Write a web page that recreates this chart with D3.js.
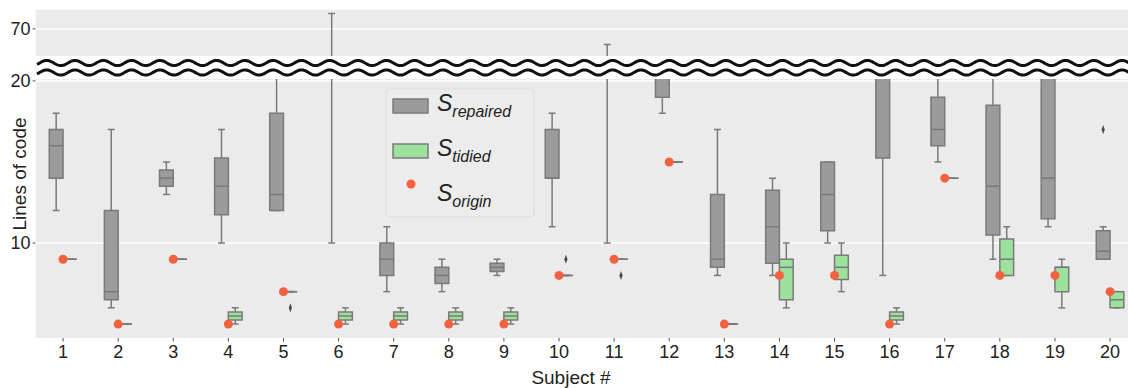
<!DOCTYPE html>
<html>
<head>
<meta charset="utf-8">
<script src="https://cdn.jsdelivr.net/npm/d3@7"></script>
<style>
  body { margin: 0; background: #fff; }
  text { font-family: "Liberation Sans", Arial, sans-serif; }
</style>
</head>
<body>
<div id="chart"></div>
<script>
//Data: five-number summaries [min, q1, median, q3, max]
var subjects = ["1","2","3","4","5","6","7","8","9","10","11","12","13","14","15","16","17","18","19","20"];
var repairedStats = [
  [12, 14, 16, 17, 18], [6, 6.5, 7, 12, 17], [13, 13.5, 14, 14.5, 15], [10, 11.75, 13.5, 15.25, 17],
  [12, 12, 13, 18, 24], [10, 30, 40, 50, 78], [7, 8, 9, 10, 11], [7, 7.5, 8, 8.5, 9],
  [8, 8.25, 8.5, 8.75, 9], [11, 14, 14, 17, 18], [10, 25, 30, 40, 62], [18, 19, 21, 23, 26],
  [8, 8.5, 9, 13, 17], [8, 8.75, 11, 13.25, 14], [10, 10.75, 13, 15, 15], [8, 15.25, 22, 28, 40],
  [15, 16, 17, 19, 22], [9, 10.5, 13.5, 18.5, 24], [11, 11.5, 14, 21, 28], [9, 9, 9.5, 10.75, 11]
];
var repairedOutliers = [[],[],[],[],[],[],[],[],[],[],[],[],[],[],[],[],[],[],[],[17]];
var tidiedStats = [
  [9, 9, 9, 9, 9], [5, 5, 5, 5, 5], [9, 9, 9, 9, 9], [5, 5.25, 5.5, 5.75, 6],
  [7, 7, 7, 7, 7], [5, 5.25, 5.5, 5.75, 6], [5, 5.25, 5.5, 5.75, 6], [5, 5.25, 5.5, 5.75, 6],
  [5, 5.25, 5.5, 5.75, 6], [8, 8, 8, 8, 8], [9, 9, 9, 9, 9], [15, 15, 15, 15, 15],
  [5, 5, 5, 5, 5], [6, 6.5, 8.5, 9, 10], [7, 7.75, 8.5, 9.25, 10], [5, 5.25, 5.5, 5.75, 6],
  [14, 14, 14, 14, 14], [8, 8, 9, 10.25, 11], [6, 7, 8.5, 8.5, 9], [6, 6, 6.5, 7, 7]
];
var tidiedOutliers = [[],[],[],[],[6],[],[],[],[],[9],[8],[],[],[],[],[],[],[],[],[]];
var originValues = [9, 5, 9, 5, 7, 5, 5, 5, 5, 8, 9, 15, 5, 8, 8, 5, 14, 8, 8, 7];
var topTicks = [70];
var bottomTicks = [10, 20];

var width = 1128, height = 388;
var colors = { repaired: "#9b9b9b", tidied: "#9ce29c", edge: "#7a7a7a", origin: "#f4613f", panel: "#ebebeb" };

var svg = d3.select("#chart").append("svg")
  .attr("width", width).attr("height", height);

var x = d3.scaleBand().domain(subjects).range([35.5, 1137.6]).padding(0);
var hue = d3.scaleBand().domain(["repaired", "tidied"])
  .range([-x.bandwidth() * 0.25, x.bandwidth() * 0.25]);

var panels = [
  { id: "top", y: d3.scaleLinear().domain([56, 80]).range([56, 9.5]), top: 9.5, bottom: 56, ticks: topTicks },
  { id: "bot", y: d3.scaleLinear().domain([4.14, 20.12]).range([338, 79]), top: 79, bottom: 338, ticks: bottomTicks }
];

var series = [
  { key: "repaired", stats: repairedStats, outliers: repairedOutliers },
  { key: "tidied", stats: tidiedStats, outliers: tidiedOutliers }
];

panels.forEach(function(p) {
  svg.append("clipPath").attr("id", "clip-" + p.id)
    .append("rect")
    .attr("x", 35.5).attr("y", p.top)
    .attr("width", width - 35.5).attr("height", p.bottom - p.top);

  var g = svg.append("g").attr("clip-path", "url(#clip-" + p.id + ")");
  g.append("rect")
    .attr("x", 35.5).attr("y", p.top)
    .attr("width", width - 35.5).attr("height", p.bottom - p.top)
    .attr("fill", colors.panel);

  //gridlines
  g.selectAll(".grid").data(p.ticks).enter().append("line")
    .attr("x1", 35.5).attr("x2", width)
    .attr("y1", function(d) { return p.y(d); })
    .attr("y2", function(d) { return p.y(d); })
    .attr("stroke", "#fff").attr("stroke-width", 1.5);

  //boxes
  series.forEach(function(s) {
    var bw = hue.bandwidth();
    var rows = subjects.map(function(sub, i) {
      return { sub: sub, st: s.stats[i], out: s.outliers[i], x0: x(sub) + x.bandwidth() / 2 + hue(s.key) };
    });
    var box = g.selectAll(null).data(rows).enter().append("g");
    //whiskers
    box.append("line")
      .attr("x1", function(d) { return d.x0 + bw / 2; })
      .attr("x2", function(d) { return d.x0 + bw / 2; })
      .attr("y1", function(d) { return p.y(d.st[0]); })
      .attr("y2", function(d) { return p.y(d.st[1]); })
      .attr("stroke", colors.edge).attr("stroke-width", 1.5);
    box.append("line")
      .attr("x1", function(d) { return d.x0 + bw / 2; })
      .attr("x2", function(d) { return d.x0 + bw / 2; })
      .attr("y1", function(d) { return p.y(d.st[3]); })
      .attr("y2", function(d) { return p.y(d.st[4]); })
      .attr("stroke", colors.edge).attr("stroke-width", 1.5);
    //caps
    [0, 4].forEach(function(k) {
      box.append("line")
        .attr("x1", function(d) { return d.x0 + bw / 4; })
        .attr("x2", function(d) { return d.x0 + bw * 3 / 4; })
        .attr("y1", function(d) { return p.y(d.st[k]); })
        .attr("y2", function(d) { return p.y(d.st[k]); })
        .attr("stroke", colors.edge).attr("stroke-width", 1.5);
    });
    //box body
    box.append("path")
      .attr("d", function(d) {
        return "M" + d.x0 + "," + p.y(d.st[3]) + "H" + (d.x0 + bw) + "V" + p.y(d.st[1]) + "H" + d.x0 + "Z";
      })
      .attr("fill", colors[s.key])
      .attr("stroke", colors.edge).attr("stroke-width", 1.5);
    //median
    box.append("line")
      .attr("x1", function(d) { return d.x0; })
      .attr("x2", function(d) { return d.x0 + bw; })
      .attr("y1", function(d) { return p.y(d.st[2]); })
      .attr("y2", function(d) { return p.y(d.st[2]); })
      .attr("stroke", colors.edge).attr("stroke-width", 1.5);
    //outliers
    box.each(function(d) {
      d3.select(this).selectAll("path.out").data(d.out).enter().append("path")
        .attr("class", "out")
        .attr("d", d3.symbol(d3.symbolDiamond, 24))
        .attr("transform", function(v) { return "translate(" + (d.x0 + bw / 2) + "," + p.y(v) + ") scale(0.6,1)"; })
        .attr("fill", "#4a4a4a");
    });
  });

  //origin points
  g.selectAll(".origin").data(originValues).enter().append("circle")
    .attr("cx", function(d, i) { return x(subjects[i]) + x.bandwidth() / 2; })
    .attr("cy", function(d) { return p.y(d); })
    .attr("r", 4.5)
    .attr("fill", colors.origin);

  //y ticks
  p.ticks.forEach(function(t) {
    svg.append("line")
      .attr("x1", 32.5).attr("x2", 35.5)
      .attr("y1", p.y(t)).attr("y2", p.y(t))
      .attr("stroke", "#555").attr("stroke-width", 1);
    svg.append("text")
      .attr("x", 30.5).attr("y", p.y(t)).attr("dy", "0.35em")
      .attr("text-anchor", "end")
      .attr("font-size", 18).attr("fill", "#222")
      .text(t);
  });
});

//axis break waves
var waveLine = d3.line()
  .x(function(d) { return d[0]; })
  .y(function(d) { return d[1]; });
[63, 72.5].forEach(function(yc) {
  var pts = d3.range(37, width + 2, 1).map(function(xx) {
    return [xx, yc - 2.6 * Math.cos(2 * Math.PI * (xx - 46.7) / 28.3)];
  });
  svg.append("path").attr("d", waveLine(pts))
    .attr("fill", "none").attr("stroke", "#111").attr("stroke-width", 3);
});

//x axis
var xt = svg.append("g");
xt.selectAll("line").data(subjects).enter().append("line")
  .attr("x1", function(d) { return x(d) + x.bandwidth() / 2; })
  .attr("x2", function(d) { return x(d) + x.bandwidth() / 2; })
  .attr("y1", 338).attr("y2", 341.5)
  .attr("stroke", "#555");
xt.selectAll("text").data(subjects).enter().append("text")
  .attr("x", function(d) { return x(d) + x.bandwidth() / 2; })
  .attr("y", 358)
  .attr("text-anchor", "middle")
  .attr("font-size", 18).attr("fill", "#222")
  .text(function(d) { return d; });

svg.append("text")
  .attr("x", 571).attr("y", 384)
  .attr("text-anchor", "middle")
  .attr("font-size", 19).attr("fill", "#222")
  .text("Subject #");
svg.append("text")
  .attr("transform", "translate(26,174) rotate(-90)")
  .attr("text-anchor", "middle")
  .attr("font-size", 19).attr("fill", "#222")
  .text("Lines of code");

//legend
var lg = svg.append("g");
lg.append("rect")
  .attr("x", 386).attr("y", 89).attr("width", 148).attr("height", 128)
  .attr("rx", 4)
  .attr("fill", "#ececec").attr("stroke", "#dcdcdc");
var legendItems = [
  { key: "repaired", label: "repaired" },
  { key: "tidied", label: "tidied" },
  { key: "origin", label: "origin" }
];
legendItems.forEach(function(it, i) {
  var by = 111 + i * 45;
  if (it.key === "origin") {
    lg.append("circle").attr("cx", 411).attr("cy", by - 17).attr("r", 4.5).attr("fill", colors.origin);
  } else {
    lg.append("rect")
      .attr("x", 393).attr("y", by - 12).attr("width", 35).attr("height", 14)
      .attr("fill", colors[it.key]).attr("stroke", colors.edge).attr("stroke-width", 1.5);
  }
  var t = lg.append("text")
    .attr("x", 437).attr("y", by)
    .attr("font-style", "italic").attr("fill", "#222");
  t.append("tspan").attr("font-size", 23).text("S");
  t.append("tspan").attr("font-size", 16).attr("dy", 6).text(it.label);
});
</script>
</body>
</html>
